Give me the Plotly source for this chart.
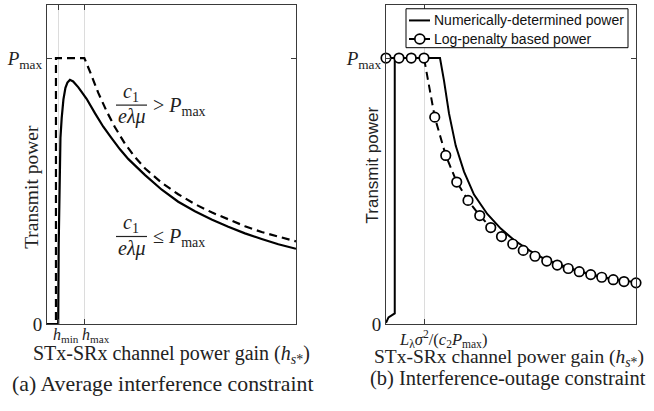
import plotly.graph_objects as go

W, H = 654, 411
SERIF = "Liberation Serif"
SANS = "Liberation Sans"

# ---------------- data: panel (a) ----------------
a_x_ticks = [0.45, 1.50]
a_x_ticklabels = ["<i>h</i><sub>min</sub>", "<i>h</i><sub>max</sub>"]
y_ticks = [0, 1.0]
y_ticklabels = ["0", "<i>P</i><sub>max</sub>"]

a_dash_x = [0, 0.36, 0.36, 1.50, 1.73, 2.06, 2.40, 2.73, 3.13, 3.53, 3.94, 4.61, 5.27, 5.94,
            6.61, 7.28, 7.95, 8.62, 9.29, 10.0]
a_dash_y = [0, 0, 1.0, 1.0, 0.948, 0.869, 0.799, 0.740, 0.678, 0.628, 0.585, 0.531, 0.488, 0.451,
            0.420, 0.393, 0.368, 0.346, 0.328, 0.311]

a_solid_x = [0, 0.45, 0.47, 0.50, 0.54, 0.59, 0.66, 0.74, 0.82, 0.92, 1.05, 1.26, 1.59, 1.93, 2.26,
             2.60, 2.93, 3.27, 3.94, 4.61, 5.27, 5.94, 6.61, 7.28, 7.95, 8.62, 9.29, 10.0]
a_solid_y = [0, 0, 0.30, 0.56, 0.70, 0.774, 0.845, 0.888, 0.908, 0.918, 0.912, 0.890, 0.847, 0.792,
             0.742, 0.698, 0.657, 0.620, 0.560, 0.505, 0.460, 0.424, 0.393, 0.366, 0.341, 0.320,
             0.300, 0.283]

# ---------------- data: panel (b) ----------------
b_x_ticks = [1.52]
b_x_ticklabels = ["<i>L</i><sub>λ</sub><i>σ</i><sup>2</sup>/(<i>c</i><sub>2</sub><i>P</i><sub>max</sub>)"]

b_num_x = [0.0, 0.10, 0.35, 0.35, 2.16, 2.32, 2.52, 2.79, 3.12, 3.52, 4.05, 4.59, 5.12, 5.76,
           6.43, 7.08, 7.73, 8.44, 9.09, 10.0]
b_num_y = [0.005, 0.025, 0.040, 1.0, 1.0, 0.915, 0.792, 0.670, 0.573, 0.487, 0.414, 0.359, 0.316, 0.275,
           0.240, 0.219, 0.199, 0.182, 0.169, 0.157]

b_log_x = [0, 0.52, 1.01, 1.52, 1.95, 2.39, 2.83, 3.28, 3.75, 4.19, 4.62, 5.07, 5.49, 5.96,
           6.43, 6.85, 7.29, 7.73, 8.19, 8.63, 9.09, 9.52, 10.0]
b_log_y = [1, 1, 1, 1, 0.778, 0.634, 0.534, 0.465, 0.408, 0.363, 0.329, 0.301, 0.277, 0.255,
           0.237, 0.222, 0.209, 0.197, 0.186, 0.176, 0.167, 0.160, 0.155]

legend_names = ["Numerically-determined power", "Log-penalty based power"]


def px(x):
    return x / W


def py(y):
    return 1 - y / H


fig = go.Figure()
DASH = "8px,5px"

fig.add_trace(go.Scatter(x=a_dash_x, y=a_dash_y, mode="lines", xaxis="x", yaxis="y",
                         line=dict(color="black", width=2.2, dash=DASH), showlegend=False))
fig.add_trace(go.Scatter(x=a_solid_x, y=a_solid_y, mode="lines", xaxis="x", yaxis="y",
                         line=dict(color="black", width=2.2), showlegend=False))

fig.add_trace(go.Scatter(x=b_num_x, y=b_num_y, mode="lines", xaxis="x2", yaxis="y2",
                         name=legend_names[0], showlegend=False, line=dict(color="black", width=2)))
fig.add_trace(go.Scatter(x=b_log_x, y=b_log_y, mode="lines+markers", xaxis="x2", yaxis="y2",
                         name=legend_names[1], showlegend=False, cliponaxis=False,
                         line=dict(color="black", width=2, dash=DASH),
                         marker=dict(symbol="circle", size=9.5, color="white",
                                     line=dict(color="black", width=1.7))))

AX = dict(range=[0, 10], showline=True, linecolor="#3a3a3a", linewidth=1, mirror="ticks",
          ticks="inside", ticklen=5, tickcolor="#3a3a3a", showgrid=True, gridcolor="#dcdcdc",
          gridwidth=1, zeroline=False, showticklabels=False)
AY = dict(range=[0, 1.2], showline=True, linecolor="#3a3a3a", linewidth=1, mirror="ticks",
          ticks="inside", ticklen=5, tickcolor="#3a3a3a", showgrid=False, zeroline=False,
          tickmode="array", tickvals=y_ticks, ticktext=y_ticklabels,
          tickfont=dict(family=SERIF, size=19, color="#222"))

ydom = [py(333), py(5)]
fig.update_layout(
    width=W, height=H, margin=dict(l=0, r=0, t=0, b=0),
    paper_bgcolor="white", plot_bgcolor="white", showlegend=False,
    xaxis=dict(AX, domain=[px(47), px(296)], tickmode="array", tickvals=a_x_ticks),
    yaxis=dict(AY, domain=ydom, anchor="x"),
    xaxis2=dict(AX, domain=[px(386), px(636)], tickmode="array", tickvals=b_x_ticks, anchor="y2"),
    yaxis2=dict(AY, domain=ydom, anchor="x2"),
)

ann = []
shapes = []


def text(x, y, s, size, family=SERIF, xanchor="center", yanchor="middle", angle=0, color="#222"):
    ann.append(dict(x=px(x), y=py(y), xref="paper", yref="paper", text=s, showarrow=False,
                    xanchor=xanchor, yanchor=yanchor, textangle=angle,
                    font=dict(family=family, size=size, color=color)))


# x tick labels (placed as text)
text(51, 345, a_x_ticklabels[0], 16, xanchor="left")
text(80, 345, a_x_ticklabels[1], 16, xanchor="left")
text(397, 348, b_x_ticklabels[0], 16.5, xanchor="left")

# axis titles
text(32, 192, "Transmit power", 19.5, angle=-90)
text(372, 170, "Transmit power", 17, family=SANS, angle=-90)
text(171, 364, "STx-SRx channel power gain (<i>h</i><sub><i>s</i>*</sub>)", 20)
text(509, 368, "STx-SRx channel power gain (<i>h</i><sub><i>s</i>*</sub>)", 19.5)

# captions
text(163, 395, "(a) Average interference constraint", 21.8)
text(508, 389, "(b) Interference-outage constraint", 20.5)

# fraction annotations
for (ybar, rel) in [(108, "&gt;"), (243, "≤")]:
    text(131, ybar - 13, "<i>c</i><sub>1</sub>", 20)
    text(132, ybar + 12, "<i>eλμ</i>", 20)
    text(151, ybar + 1, rel + " <i>P</i><sub>max</sub>", 20, xanchor="left")
    shapes.append(dict(type="line", xref="paper", yref="paper", x0=px(116), x1=px(147),
                       y0=py(ybar), y1=py(ybar), line=dict(color="#222", width=1.2)))

# legend (panel b)
shapes.append(dict(type="rect", xref="paper", yref="paper", x0=px(406), x1=px(628),
                   y0=py(49), y1=py(9), fillcolor="white", line=dict(color="black", width=1),
                   layer="above"))
shapes.append(dict(type="line", xref="paper", yref="paper", x0=px(409), x1=px(430),
                   y0=py(21), y1=py(21), line=dict(color="black", width=2), layer="above"))
shapes.append(dict(type="line", xref="paper", yref="paper", x0=px(409), x1=px(430),
                   y0=py(40), y1=py(40), line=dict(color="black", width=2, dash=DASH),
                   layer="above"))
shapes.append(dict(type="circle", xref="paper", yref="paper", x0=px(414.8), x1=px(424.8),
                   y0=py(45), y1=py(35), fillcolor="white", line=dict(color="black", width=1.7),
                   layer="above"))
text(432, 21, legend_names[0], 14, family=SANS, xanchor="left", color="#111")
text(432, 40, legend_names[1], 14, family=SANS, xanchor="left", color="#111")

fig.update_layout(annotations=ann, shapes=shapes)
fig.write_html("out.html", config={"displayModeBar": False},
               post_script="document.body.style.margin='0';document.body.style.overflow='hidden';")
